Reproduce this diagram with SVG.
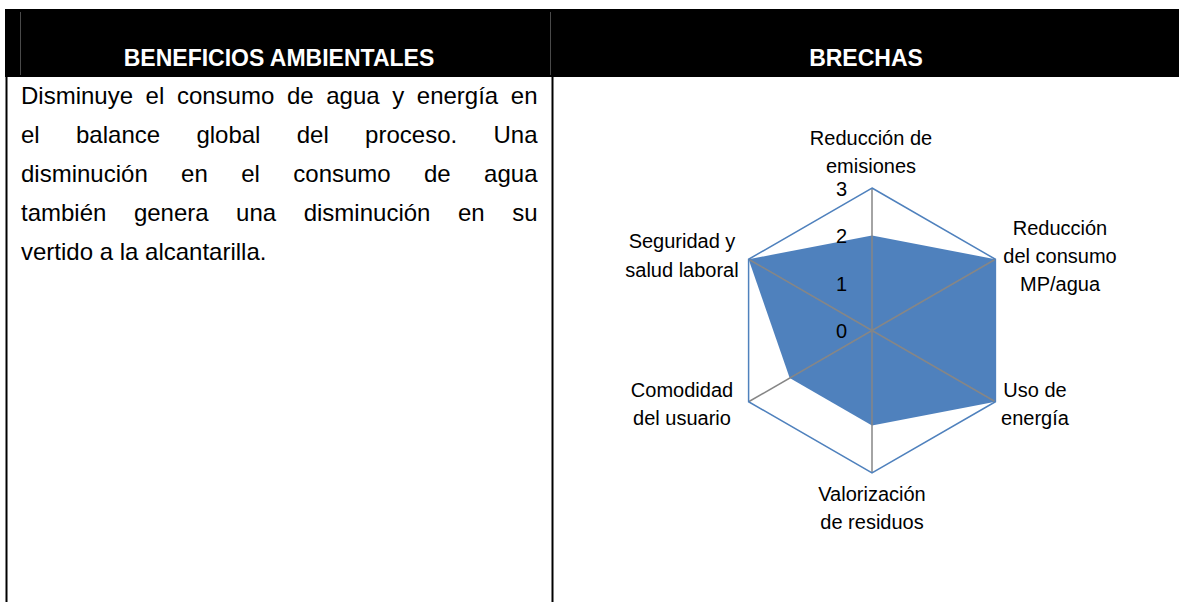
<svg xmlns="http://www.w3.org/2000/svg" width="1179" height="602" viewBox="0 0 1179 602">
<style>
.hdr{font-family:"Liberation Sans",Arial,sans-serif;font-weight:bold;font-size:23px;fill:#ffffff;text-anchor:middle}
.body{font-family:"Liberation Sans",Arial,sans-serif;font-size:24px;fill:#000000}
.lbl{font-family:"Liberation Sans",Arial,sans-serif;font-size:20px;fill:#000000;text-anchor:middle}
.tick{font-family:"Liberation Sans",Arial,sans-serif;font-size:20px;fill:#000000;text-anchor:end}
.spoke{stroke:#868686;stroke-width:1.5;fill:none}
.border{stroke:#000000;stroke-width:2;fill:none}
.cellsep{stroke:#4a4a4a;stroke-width:1;fill:none}
</style>
<rect width="1179" height="602" fill="#ffffff"/>
<g id="header">
  <rect x="5" y="9" width="1174" height="68" fill="#000000"/>
  <line class="cellsep" x1="20.5" y1="12" x2="20.5" y2="75"/>
  <line class="cellsep" x1="550.5" y1="12" x2="550.5" y2="75"/>
  <text class="hdr" x="279" y="66">BENEFICIOS AMBIENTALES</text>
  <text class="hdr" x="866" y="66">BRECHAS</text>
</g>
<g id="table-borders">
  <line class="border" x1="6.5" y1="77" x2="6.5" y2="602"/>
  <line class="border" x1="552.5" y1="77" x2="552.5" y2="602"/>
</g>
<g id="benefits-text" class="body">
  <text y="104"><tspan x="21">Disminuye</tspan><tspan x="145.6">el</tspan><tspan x="176.9">consumo</tspan><tspan x="286.9">de</tspan><tspan x="326.2">agua</tspan><tspan x="392.2">y</tspan><tspan x="416.8">energía</tspan><tspan x="510.8">en</tspan></text>
  <text y="143"><tspan x="21">el</tspan><tspan x="76">balance</tspan><tspan x="196.4">global</tspan><tspan x="296.7">del</tspan><tspan x="365.1">proceso.</tspan><tspan x="493.5">Una</tspan></text>
  <text y="182"><tspan x="21">disminución</tspan><tspan x="181.1">en</tspan><tspan x="241.2">el</tspan><tspan x="293.3">consumo</tspan><tspan x="424">de</tspan><tspan x="484.1">agua</tspan></text>
  <text y="221"><tspan x="21">también</tspan><tspan x="133.9">genera</tspan><tspan x="236.1">una</tspan><tspan x="303.7">disminución</tspan><tspan x="457.9">en</tspan><tspan x="512.2">su</tspan></text>
  <text x="21" y="260">vertido a la alcantarilla.</text>
</g>
<g id="radar-chart">
  <polygon id="series" points="872,235.5 995.4,259.25 995.4,401.75 872,425.5 789.7,378 748.6,259.25" fill="#4F81BD"/>
  <g id="spokes">
    <line class="spoke" x1="872" y1="330.5" x2="872" y2="188"/>
    <line class="spoke" x1="872" y1="330.5" x2="995.4" y2="259.25"/>
    <line class="spoke" x1="872" y1="330.5" x2="995.4" y2="401.75"/>
    <line class="spoke" x1="872" y1="330.5" x2="872" y2="473"/>
    <line class="spoke" x1="872" y1="330.5" x2="748.6" y2="401.75"/>
    <line class="spoke" x1="872" y1="330.5" x2="748.6" y2="259.25"/>
  </g>
  <polygon id="outer-grid" points="872,188 995.4,259.25 995.4,401.75 872,473 748.6,401.75 748.6,259.25" fill="none" stroke="#4F81BD" stroke-width="1.5"/>
  <g id="ticks">
    <text class="tick" x="847" y="196">3</text>
    <text class="tick" x="847" y="243.3">2</text>
    <text class="tick" x="847" y="290.7">1</text>
    <text class="tick" x="847" y="338">0</text>
  </g>
</g>
<g id="label-emisiones"><text class="lbl" x="871" y="145">Reducción de</text><text class="lbl" x="871" y="173">emisiones</text></g>
<g id="label-consumo"><text class="lbl" x="1060" y="235">Reducción</text><text class="lbl" x="1060" y="263">del consumo</text><text class="lbl" x="1060" y="291">MP/agua</text></g>
<g id="label-energia"><text class="lbl" x="1035" y="397">Uso de</text><text class="lbl" x="1035" y="425">energía</text></g>
<g id="label-residuos"><text class="lbl" x="872" y="501">Valorización</text><text class="lbl" x="872" y="529">de residuos</text></g>
<g id="label-comodidad"><text class="lbl" x="682" y="397">Comodidad</text><text class="lbl" x="682" y="425">del usuario</text></g>
<g id="label-seguridad"><text class="lbl" x="682" y="248">Seguridad y</text><text class="lbl" x="682" y="277">salud laboral</text></g>
</svg>
